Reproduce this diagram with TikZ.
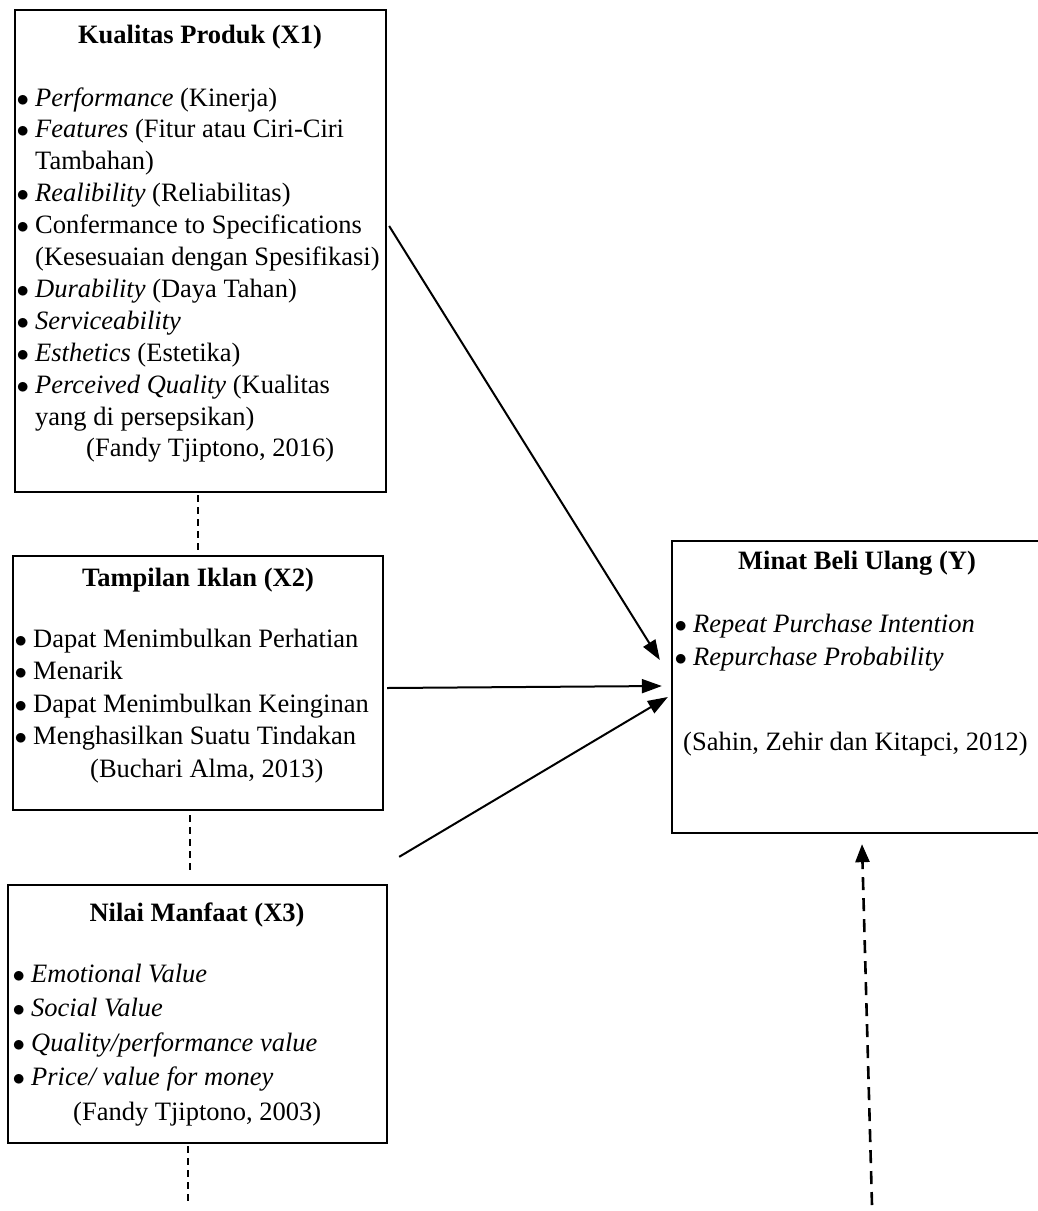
\documentclass[tikz,border=0pt]{standalone}
\usepackage{fontspec}
\setmainfont{Liberation Serif}
\usetikzlibrary{arrows.meta,calc}
\newcommand{\bl}{\makebox[18pt][l]{\hspace*{-0.5pt}$\bullet$}}
\begin{document}
\begin{tikzpicture}[x=1pt,y=-1pt,
  box/.style={draw, line width=2.3pt, inner sep=0pt},
  ttl/.style={inner sep=0pt, anchor=base, font=\fontsize{26.5}{32}\selectfont\bfseries},
  txt/.style={inner sep=0pt, anchor=base west},
  arr/.style={line width=2pt, -{Triangle[length=20pt,width=14pt]}},
  dsh/.style={line width=1.3pt, dash pattern=on 7pt off 5pt},
  darr/.style={line width=2.6pt, dash pattern=on 13pt off 8pt, -{Triangle[length=18pt,width=14pt]}}]
\useasboundingbox (0,0) rectangle (1037,1211);

% boxes
\node[box, minimum width=371pt, minimum height=482pt] (X1) at (200.5,251) {};
\node[box, minimum width=370pt, minimum height=254pt] (X2) at (198,683) {};
\node[box, minimum width=379pt, minimum height=258pt] (X3) at (197.5,1014) {};
\node[box, minimum width=367pt, minimum height=292pt] (Y) at (855.5,687) {};

% titles
\node[ttl] (t1) at (200,43) {Kualitas Produk (X1)};
\node[ttl] (t2) at (198,586) {Tampilan Iklan (X2)};
\node[ttl] (t3) at (197,921) {Nilai Manfaat (X3)};
\node[ttl] (ty) at (857,569) {Minat Beli Ulang (Y)};

% lists
\node[txt, font=\fontsize{26.5}{31.9}\selectfont] (l1) at (17,106) {\begin{tabular}[t]{@{}l@{}}
\bl\textit{Performance} (Kinerja)\\
\bl\textit{Features} (Fitur atau Ciri-Ciri\\
\hspace*{18pt}Tambahan)\\
\bl\textit{Realibility} (Reliabilitas)\\
\bl Confermance to Specifications\\
\hspace*{18pt}(Kesesuaian dengan Spesifikasi)\\
\bl\textit{Durability} (Daya Tahan)\\
\bl\textit{Serviceability}\\
\bl\textit{Esthetics} (Estetika)\\
\bl\textit{Perceived Quality} (Kualitas\\
\hspace*{18pt}yang di persepsikan)\\
\hspace*{69pt}(Fandy Tjiptono, 2016)
\end{tabular}};

\node[txt, font=\fontsize{26.5}{32.5}\selectfont] (l2) at (15,647) {\begin{tabular}[t]{@{}l@{}}
\bl Dapat Menimbulkan Perhatian\\
\bl Menarik\\
\bl Dapat Menimbulkan Keinginan\\
\bl Menghasilkan Suatu Tindakan\\
\hspace*{75pt}(Buchari Alma, 2013)
\end{tabular}};

\node[txt, font=\fontsize{26.5}{34.5}\selectfont] (l3) at (13,982) {\begin{tabular}[t]{@{}l@{}}
\bl\textit{Emotional Value}\\
\bl\textit{Social Value}\\
\bl\textit{Quality/performance value}\\
\bl\textit{Price/ value for money}\\
\hspace*{60pt}(Fandy Tjiptono, 2003)
\end{tabular}};

\node[txt, font=\fontsize{26.5}{33}\selectfont] (ly) at (675,632) {\begin{tabular}[t]{@{}l@{}}
\bl\textit{Repeat Purchase Intention}\\
\bl\textit{Repurchase Probability}
\end{tabular}};
\node[txt, font=\fontsize{26.5}{32}\selectfont] (cy) at (683,750) {(Sahin, Zehir dan Kitapci, 2012)};

% dashed links between boxes
\draw[dsh] ([xshift=-2.5pt,yshift=-2pt]X1.south) -- ([yshift=5pt]X2.north);
\draw[dsh] ([xshift=-8pt,yshift=-4pt]X2.south) -- ([xshift=-7.5pt,yshift=10pt]X3.north);
\coordinate (e3) at (188,1205);
\draw[dsh] ([xshift=-9.5pt,yshift=-2pt]X3.south) -- (e3);

% arrows
\draw[arr] ([xshift=2pt,yshift=25pt]X1.east) -- ([xshift=-11pt,yshift=27pt]Y.west);
\draw[arr] ([xshift=3pt,yshift=-5pt]X2.east) -- ([xshift=-9pt,yshift=1pt]Y.west);
\draw[arr] ([xshift=11pt,yshift=27pt]X3.north east) -- ([xshift=-3pt,yshift=-10pt]Y.west);
\coordinate (dy) at (872,1205);
\draw[darr] (dy) -- ([xshift=6.5pt,yshift=-10pt]Y.south);
\end{tikzpicture}
\end{document}
